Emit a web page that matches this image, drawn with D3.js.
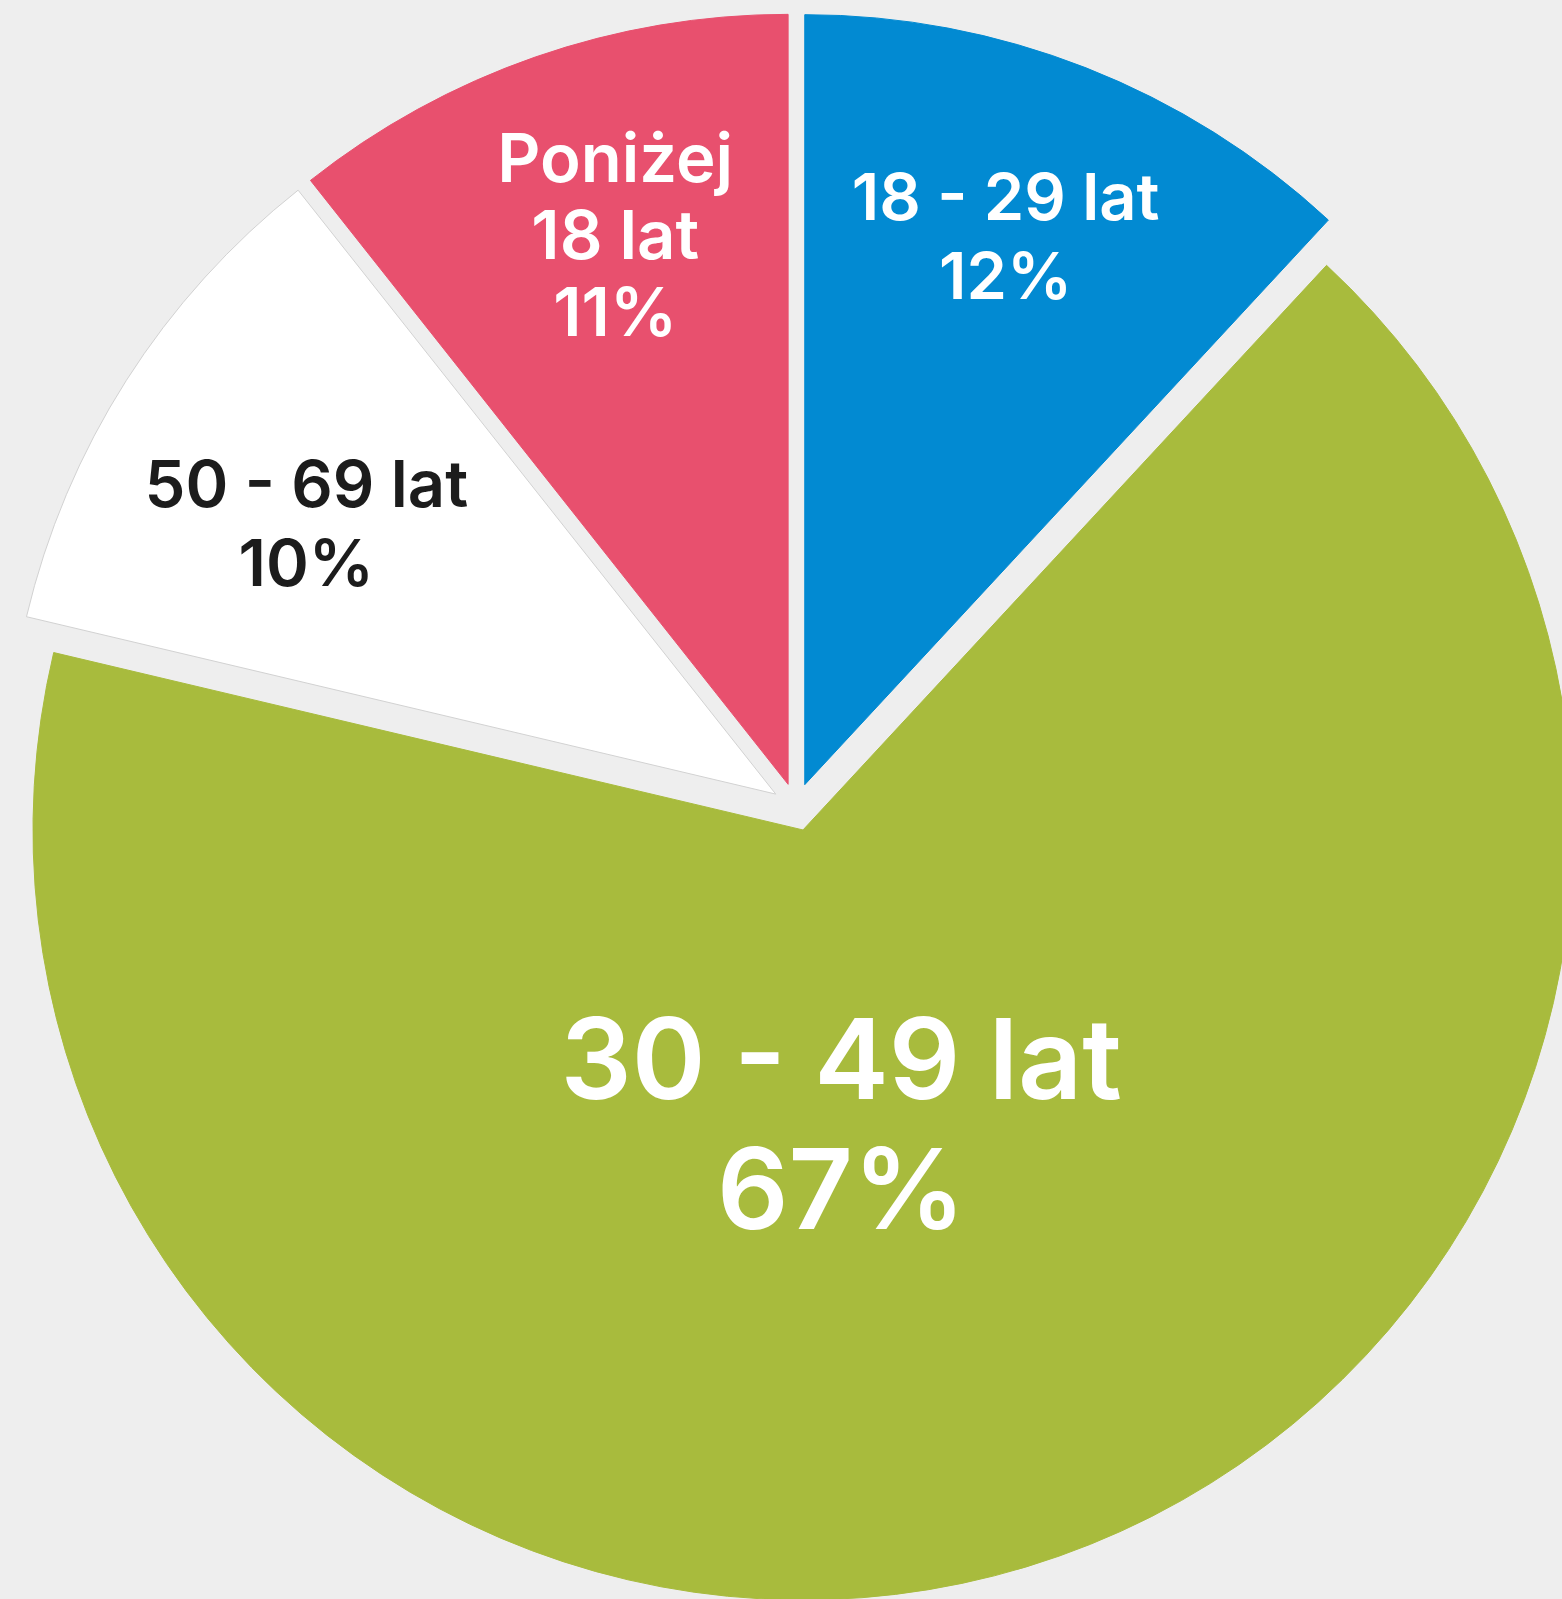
<!DOCTYPE html>
<html><head><meta charset="utf-8">
<script src="https://cdn.jsdelivr.net/npm/d3@7"></script>
<style>html,body{margin:0;padding:0;background:#eeeeee;overflow:hidden}svg{display:block}</style>
</head><body>
<svg id="c" width="1562" height="1599"></svg>
<script>
// data
const categories = ["18 - 29 lat", "30 - 49 lat", "50 - 69 lat", "Poniżej 18 lat"];
const values = [11.9, 66.8, 10.65, 10.65];
const percentLabels = ["12%", "67%", "10%", "11%"];
const labelLines = [["18 - 29 lat"], ["30 - 49 lat"], ["50 - 69 lat"], ["Poniżej", "18 lat"]];

// styling / layout (not data)
const colors = ["#028AD2", "#A8BB3D", "#FFFFFF", "#E8506E"];
const textColors = ["#ffffff", "#ffffff", "#1c1c1c", "#ffffff"];
const fontSizes = [65, 112, 65, 67];
const lineHeights = [79, 130, 79, 77];
const labelRadius = [584, 296, 542, 576];
const labelAngleShift = [-1.3, 9.5, -2.5, 1.7]; // degrees
const W = 1562, H = 1599, cx = 796, cy = 807, R = 770, explode = 24;

const svg = d3.select("#c");
svg.append("rect").attr("width", W).attr("height", H).attr("fill", "#eeeeee");

const pie = d3.pie().sort(null).value(d => d)(values);
const arc = d3.arc().innerRadius(0).outerRadius(R);
const g = svg.append("g").attr("transform", `translate(${cx},${cy})`);

const slices = g.selectAll("g.slice").data(pie).join("g")
  .attr("class", "slice")
  .attr("transform", d => {
    const m = (d.startAngle + d.endAngle) / 2;
    const [x, y] = d3.pointRadial(m, explode);
    return `translate(${x},${y})`;
  });

slices.append("path")
  .attr("d", arc)
  .attr("fill", (d, i) => colors[i])
  .attr("stroke", (d, i) => i === 2 ? "#d2d2d2" : colors[i])
  .attr("stroke-width", 1);

slices.each(function (d, i) {
  const m = (d.startAngle + d.endAngle) / 2 + labelAngleShift[i] * Math.PI / 180;
  const [lx, ly] = d3.pointRadial(m, labelRadius[i]);
  const lines = labelLines[i].concat([percentLabels[i]]);
  const fs = fontSizes[i], lh = lineHeights[i];
  const cap = fs * 0.727;
  const first = ly - (lines.length - 1) * lh / 2 + cap / 2;
  const t = d3.select(this).append("text")
    .attr("text-anchor", "middle")
    .attr("fill", textColors[i])
    .attr("font-family", "Inter, 'Noto Sans', sans-serif")
    .attr("font-weight", 600)
    .attr("font-size", fs);
  lines.forEach((s, k) => {
    t.append("tspan").attr("x", lx).attr("y", first + k * lh).text(s);
  });
});
</script>
</body></html>
